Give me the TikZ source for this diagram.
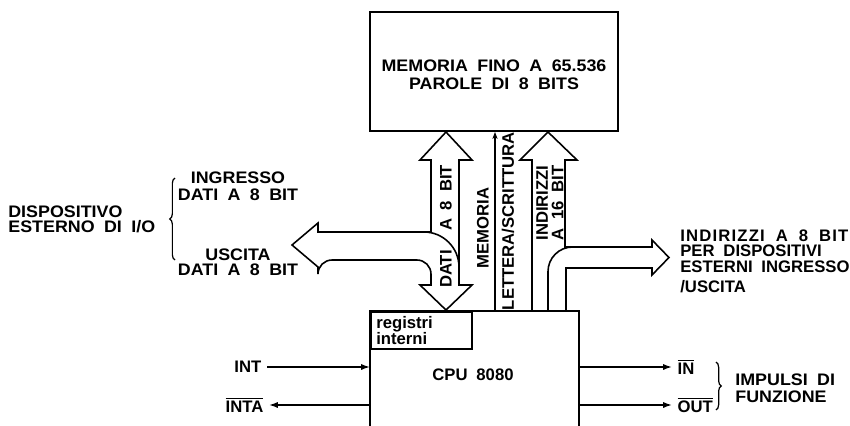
\documentclass[tikz,border=0pt]{standalone}
\usepackage{fontspec}
\setmainfont{Liberation Sans}[WordSpace=1.9]
\newfontfamily\wideFont{Liberation Sans}[FakeStretch=1.07,WordSpace=1.9]
\usetikzlibrary{arrows.meta,decorations.pathreplacing}
\newcommand{\labelFont}[1]{\fontsize{9.5}{#1}\selectfont\bfseries}
\newcommand{\wideLabel}[1]{\wideFont\fontsize{9.5}{#1}\selectfont\bfseries}
\newcommand{\overBar}[1]{$\overline{\mbox{#1}}$}
\newcommand{\memoryUnit}{%%
  %% The memory block.
  \node[boxStyle,minimum width=4.96cm,minimum height=2.38cm] (memory) at (494,71.5) {};
  \node[labelStyle,font=\wideLabel{10.2pt}] (memoryText) at (494,75)
    {MEMORIA FINO A 65.536\\PAROLE DI 8 BITS};
}
\newcommand{\cpuUnit}{%%
  %% The processor, open at the bottom.
  \coordinate (cpuNW) at (370,311);
  \coordinate (cpuNE) at (579,311);
  \draw[lineStyle] (370,426) -- (cpuNW) -- (cpuNE) -- (579,426);
  \node[labelStyle] (cpu) at (473,375) {CPU 8080};
  \node[boxStyle,anchor=north west,minimum width=2.02cm,minimum height=0.74cm,
    text width=1.8cm,inner xsep=0.11cm,align=left,font=\labelFont{9.3pt}]
    (registers) at (cpuNW) {registri\\interni};
}
\newcommand{\dataBus}{%%
  %% The data bus with its branch to the I/O devices.
  \draw[busStyle] (431,232) -- (431,160) -- (420,160) -- (446,132) -- (472,160)
    -- (459,160) -- (459,285) -- (472,285) -- (446,310) -- (420,285) -- (431,285)
    [rounded corners=8] -- (431,260) -- (318,260) [sharp corners] -- (318,267)
    -- (292,245) -- (318,223) -- (318,232) -- cycle;
  \draw[busStyle,rounded corners=20] (431,232) -- (459,232) -- (459,262);
}
\newcommand{\addressBus}{%%
  %% The address bus with its branch to the I/O devices.
  \draw[busStyle] (532,310) -- (532,160) -- (520,160) -- (548,132) -- (577,160)
    -- (565,160) -- (565,247) -- (652,247) -- (652,240) -- (669,257.5)
    -- (652,275) -- (652,268) -- (566,268) -- (566,310);
  \draw[busStyle,rounded corners=14] (548,310) -- (548,247) -- (565,247);
}

\begin{document}
\begin{tikzpicture}[%%
  x=0.02cm,y=-0.02cm,%%
  lineStyle/.style={line width=0.9pt},%%
  boxStyle/.style={draw,line width=0.9pt,inner sep=0pt},%%
  busStyle/.style={line width=0.9pt,line join=miter},%%
  labelStyle/.style={inner sep=0pt,align=center,font=\labelFont{8.8pt}},%%
  wideStyle/.style={labelStyle,font=\wideLabel{8.8pt}},%%
  signalLabel/.style={labelStyle,inner xsep=3pt},%%
  signalStyle/.style={line width=0.9pt,-{Latex[length=5pt,width=3.5pt]}},%%
  braceStyle/.style={line width=0.7pt,decorate,decoration={brace,amplitude=3pt}}%%
]
\useasboundingbox (0,0) rectangle (850,426);
%%
%%
\memoryUnit
\cpuUnit
\dataBus
\addressBus
%%
%% The read/write line.
\coordinate (rwTop) at (495,132);
\draw[lineStyle,-{Stealth[length=4pt,width=3pt]}] (495,311) -- (rwTop);
%%
%% Texts along the buses.
\node[labelStyle,rotate=90] (dataText) at (446,226.5) {DATI\hspace{11pt}A 8 BIT};
\node[labelStyle,rotate=90] (memText) at (483,228) {MEMORIA};
\node[labelStyle,rotate=90] (rwText) at (508,221) {LETTERA/SCRITTURA};
\node[labelStyle,rotate=90] (addrText) at (550,203) {INDIRIZZI\\A 16 BIT};
%%
%% The I/O device side.
\node[wideStyle,anchor=west,align=left] (device) at (8,219.5)
  {DISPOSITIVO\\ESTERNO DI I/O};
\draw[braceStyle] (175,260) -- (175,178);
\node[wideStyle,font=\wideLabel{9.6pt}] (inData) at (238,186.5) {INGRESSO\\DATI A 8 BIT};
\node[wideStyle] (outData) at (238,262.5) {USCITA\\DATI A 8 BIT};
\node[labelStyle,anchor=west,align=left] (ioAddress) at (680,261)
  {{\addfontfeature{LetterSpace=7}INDIRIZZI A 8 BIT}\\PER DISPOSITIVI\\ESTERNI INGRESSO\\[2.5pt]/USCITA};
%%
%% Interrupt and function pulses.
\node[signalLabel,anchor=east] (int) at (267,367) {INT};
\node[signalLabel,anchor=east] (inta) at (269,405) {\overBar{INTA}};
\draw[signalStyle] (int) -- (int -| cpuNW);
\draw[signalStyle] (inta -| cpuNW) -- (inta);
\node[signalLabel,anchor=west] (in) at (672,367) {\overBar{IN}};
\node[signalLabel,anchor=west] (out) at (672,405) {\overBar{OUT}};
\draw[signalStyle] (in -| cpuNE) -- (in);
\draw[signalStyle] (out -| cpuNE) -- (out);
\draw[braceStyle] (716,362) -- (716,410);
\node[wideStyle,anchor=west,align=left,font=\wideLabel{9.5pt}] (pulses) at (735,388)
  {IMPULSI DI\\FUNZIONE};
\end{tikzpicture}
\end{document}
